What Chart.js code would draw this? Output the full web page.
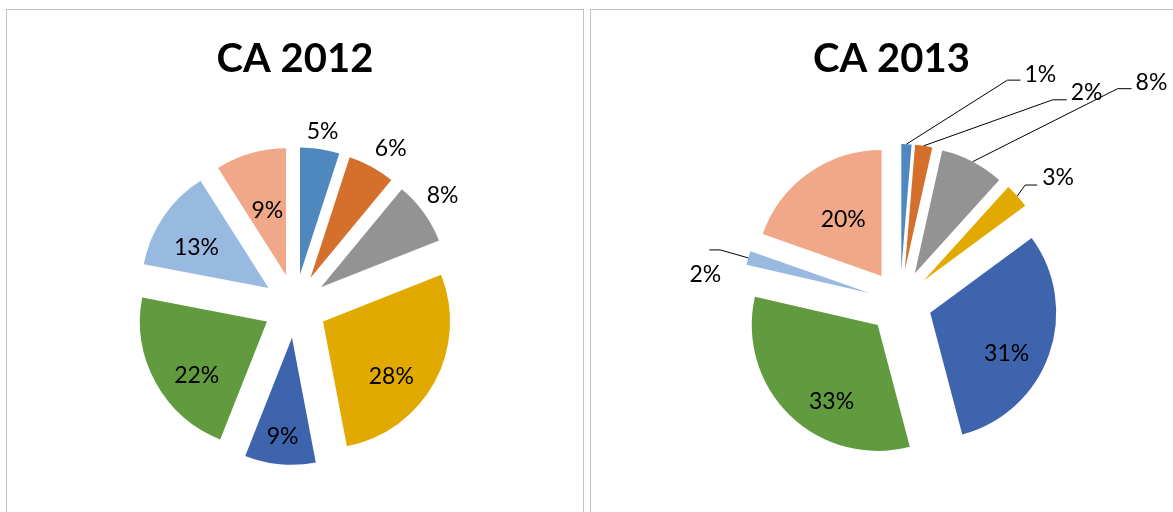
<!DOCTYPE html>
<html>
<head>
<meta charset="utf-8">
<script src="https://cdn.jsdelivr.net/npm/chart.js@4.4.1/dist/chart.umd.min.js"></script>
<style>
  html, body { margin: 0; padding: 0; background: #fff; overflow: hidden; width: 1173px; height: 512px; }
  .box { position: absolute; border: 1px solid #c3c3c3; background: #fff; overflow: hidden; }
  #box1 { left: 6px; top: 9px; width: 576px; height: 540px; }
  #box2 { left: 590px; top: 9px; width: 640px; height: 540px; }
  canvas { position: absolute; left: 0; top: 0; }
</style>
</head>
<body>
<div class="box" id="box1"><canvas id="c2012" width="576" height="530"></canvas></div>
<div class="box" id="box2"><canvas id="c2013" width="601" height="530"></canvas></div>
<script>
// ---- data (shares in %) ----
const categories = ['Catégorie 1', 'Catégorie 2', 'Catégorie 3', 'Catégorie 4',
                    'Catégorie 5', 'Catégorie 6', 'Catégorie 7', 'Catégorie 8'];
const values2012 = [5, 6, 8, 28, 9, 22, 13, 9];
const values2013 = [1.3, 2.2, 8.2, 3.2, 31.0, 32.7, 1.8, 19.6];
const title2012 = 'CA 2012';
const title2013 = 'CA 2013';

// ---- styles ----
const sliceColors = ['#4f88bf', '#d56f2c', '#939393', '#e2aa00', '#3e64ad', '#629a3f', '#98b9e0', '#f0a889'];

// label placement (relative to each exploded slice): radius factor + angle tweak, or leader line
const place2012 = [
  { r: 1.135, da: 0 }, { r: 1.2, da: 3 }, { r: 1.2, da: -1 }, { r: 0.69, da: 10 },
  { r: 0.78, da: 0 }, { r: 0.70, da: -9 }, { r: 0.65, da: -5 }, { r: 0.53, da: 0 }
];
const place2013 = [
  { leader: [101, -64, 13], text: [4, -6], align: 'left' },
  { leader: [129, -46, 14], text: [4, -7], align: 'left' },
  { leader: [145, -73, 14], text: [4, -6], align: 'left' },
  { leader: [8, -11, 12], text: [5, -7], align: 'left' },
  { r: 0.69, da: 9 }, { r: 0.71, da: -13 },
  { leader: [-28, -8, -11], text: [-4, 25], align: 'center' },
  { r: 0.54, da: 1 }
];

const explodePlugin = {
  id: 'explode',
  afterDatasetsUpdate(chart, args, opts) {
    const dist = opts.distance || 0;
    chart.getSortedVisibleDatasetMetas().forEach(meta => {
      meta.data.forEach(arc => {
        const mid = (arc.startAngle + arc.endAngle) / 2;
        arc.x += Math.cos(mid) * dist;
        arc.y += Math.sin(mid) * dist;
      });
    });
  }
};

const labelPlugin = {
  id: 'sliceLabels',
  afterDatasetsDraw(chart, args, opts) {
    const meta = chart.getDatasetMeta(0);
    const data = chart.data.datasets[0].data;
    const total = data.reduce((a, b) => a + b, 0);
    const ctx = chart.ctx;
    ctx.save();
    ctx.font = opts.font;
    ctx.fillStyle = opts.color;
    ctx.strokeStyle = opts.lineColor;
    ctx.lineWidth = 1;
    ctx.textBaseline = 'middle';
    meta.data.forEach((arc, i) => {
      const text = Math.round(data[i] / total * 100) + '%';
      const spec = opts.place[i];
      const mid = (arc.startAngle + arc.endAngle) / 2;
      const R = arc.outerRadius;
      if (spec.leader) {
        const ax = arc.x + Math.cos(mid) * R;
        const ay = arc.y + Math.sin(mid) * R;
        const ex = ax + spec.leader[0];
        const ey = ay + spec.leader[1];
        const tx = ex + spec.leader[2];
        ctx.beginPath();
        ctx.moveTo(ax, ay);
        ctx.lineTo(ex, ey);
        ctx.lineTo(tx, ey);
        ctx.stroke();
        ctx.textAlign = spec.align;
        ctx.fillText(text, tx + spec.text[0], ey + spec.text[1]);
      } else {
        const a = mid + spec.da * Math.PI / 180;
        const d = spec.r * R;
        ctx.textAlign = 'center';
        ctx.fillText(text, arc.x + Math.cos(a) * d, arc.y + Math.sin(a) * d);
      }
    });
    ctx.restore();
  }
};

function makePie(canvasId, title, values, radius, place, padBottom, leftSpace) {
  return new Chart(document.getElementById(canvasId), {
    type: 'pie',
    data: {
      labels: categories,
      datasets: [{
        data: values,
        backgroundColor: sliceColors,
        borderWidth: 0,
        radius: radius
      }]
    },
    options: {
      responsive: false,
      animation: false,
      events: [],
      layout: { padding: { top: 0, bottom: padBottom, left: 0, right: 0 } },
      plugins: {
        legend: { display: false },
        tooltip: { enabled: false },
        title: {
          display: true,
          text: title,
          color: '#000',
          font: { family: 'Lato', size: 40, weight: 'bold', lineHeight: 1.2 },
          padding: { top: 25, bottom: 0 }
        },
        subtitle: {
          display: leftSpace > 0,
          position: 'left',
          text: '',
          font: { size: 0.01 },
          padding: { top: leftSpace, bottom: 0 }
        },
        explode: { distance: 32 },
        sliceLabels: {
          place: place,
          font: '23px Lato',
          color: '#000',
          lineColor: '#000'
        }
      }
    },
    plugins: [explodePlugin, labelPlugin]
  });
}

Promise.all([
  document.fonts.load('bold 40px Lato'),
  document.fonts.load('23px Lato')
]).catch(() => {}).then(() => {
  makePie('c2012', title2012, values2012, 127, place2012, 11, 0);
  makePie('c2013', title2013, values2013, 126, place2013, 19, 17);
});
</script>
</body>
</html>
